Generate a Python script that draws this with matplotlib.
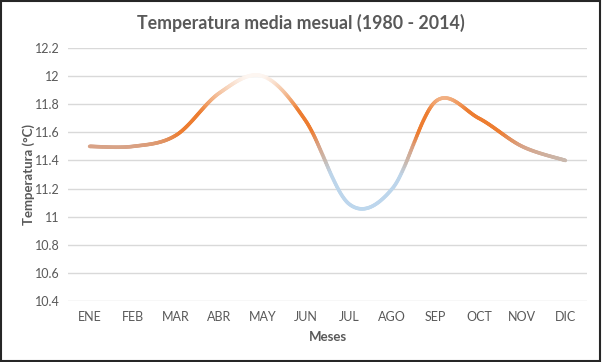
import numpy as np
import matplotlib.pyplot as plt
from matplotlib.collections import LineCollection
from matplotlib.colors import LinearSegmentedColormap, Normalize
from matplotlib.patches import Rectangle

plt.rcParams['font.family'] = ['Lato', 'DejaVu Sans']

meses = ['ENE', 'FEB', 'MAR', 'ABR', 'MAY', 'JUN', 'JUL', 'AGO', 'SEP', 'OCT', 'NOV', 'DIC']
temp = [11.5, 11.5, 11.58, 11.88, 12.0, 11.68, 11.09, 11.2, 11.82, 11.7, 11.5, 11.4]
yticks = [10.4, 10.6, 10.8, 11, 11.2, 11.4, 11.6, 11.8, 12, 12.2]
ytick_labels = ['10.4', '10.6', '10.8', '11', '11.2', '11.4', '11.6', '11.8', '12', '12.2']


def smooth(x, y, n=40):
    # Excel style smoothed line (Catmull-Rom bezier)
    x = np.asarray(x, float); y = np.asarray(y, float)
    px = np.concatenate([[x[0]], x, [x[-1]]])
    py = np.concatenate([[y[0]], y, [y[-1]]])
    xs, ys = [], []
    t = np.linspace(0, 1, n)
    for i in range(1, len(px) - 2):
        p0 = np.array([px[i], py[i]]); p3 = np.array([px[i+1], py[i+1]])
        p1 = p0 + (np.array([px[i+1], py[i+1]]) - np.array([px[i-1], py[i-1]])) / 6
        p2 = p3 - (np.array([px[i+2], py[i+2]]) - np.array([px[i], py[i]])) / 6
        b = ((1-t)**3)[:, None]*p0 + (3*(1-t)**2*t)[:, None]*p1 + (3*(1-t)*t**2)[:, None]*p2 + (t**3)[:, None]*p3
        xs.append(b[:, 0]); ys.append(b[:, 1])
    return np.concatenate(xs), np.concatenate(ys)


fig = plt.figure(figsize=(6.02, 3.62), dpi=100)
ax = fig.add_axes([68/602, 1 - 301/362, 519/602, 253/362])

x = np.arange(len(meses))
sx, sy = smooth(x, temp)
pts = np.column_stack([sx, sy]).reshape(-1, 1, 2)
segs = np.concatenate([pts[:-1], pts[1:]], axis=1)

cmap = LinearSegmentedColormap.from_list('grad', [
    (0.0, '#bdd7ee'), (0.3, '#bdd5ea'), (0.4, '#c9b8ad'), (0.5, '#d9a285'),
    (0.6, '#ed7d31'), (0.75, '#ed7d31'), (0.86, '#f3b88f'), (1.0, '#fdf6f1')])
lc = LineCollection(segs, cmap=cmap, norm=Normalize(11.0, 12.0), linewidth=2.6, capstyle='round')
lc.set_array((sy[:-1] + sy[1:]) / 2)
ax.add_collection(lc)

ax.set_xlim(-0.5, 11.5)
ax.set_ylim(10.4, 12.2)
ax.set_yticks(yticks)
ax.set_yticklabels(ytick_labels)
ax.set_xticks(x)
ax.set_xticklabels(meses)
ax.grid(axis='y', color='#d9d9d9', linewidth=1)
ax.set_axisbelow(True)
for s in ax.spines.values():
    s.set_visible(False)
ax.tick_params(length=0, labelsize=9, labelcolor='#595959', pad=7)
ax.tick_params(axis='y', pad=6)

ax.set_xlabel('Meses', fontsize=9.5, fontweight='bold', color='#595959', labelpad=6)
ax.set_ylabel('Temperatura (°C)', fontsize=9.5, fontweight='bold', color='#595959', labelpad=0)
fig.suptitle('Temperatura media mesual (1980 - 2014)', fontsize=12.8, fontweight='bold',
             color='#595959', y=0.962)

fig.patches.append(Rectangle((0.002, 0.003), 0.995, 0.994, transform=fig.transFigure,
                             fill=False, edgecolor='#262626', linewidth=1.5))

plt.savefig('out.png', dpi=100)
